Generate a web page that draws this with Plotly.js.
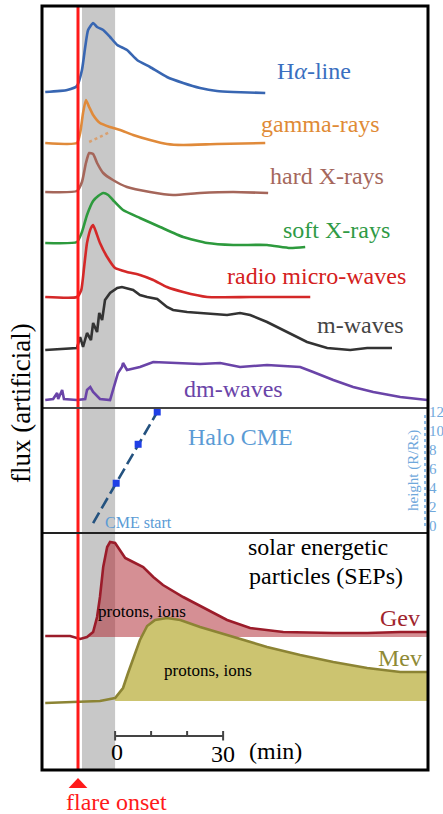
<!DOCTYPE html>
<html><head><meta charset="utf-8">
<script src="https://cdn.plot.ly/plotly-3.0.1.min.js"></script>
<style>html,body{margin:0;padding:0;background:#fff;}#chart{width:443px;height:814px;}</style>
</head><body><div id="chart"></div>
<script>
// ---- time axis (minutes, 0 = scale-bar zero) ----
const flareOnset = -10.3;
const impulsiveStart = -9.2, impulsiveEnd = 0;
const scaleTicks = [0, 10, 20, 30];
const scaleLabels = ['0', '', '', '30'];

// ---- top panel: radiation fluxes (artificial units, stacked) ----
const haT = [-19.4,-13.3,-10.6,-9.2,-8.3,-7.5,-6.1,-5.0,-3.3,-1.4,0.6,3.3,6.1,9.7,14.4,18.9,23.6,28.3,32.8,41.7];
const haV = [315,317,321,337,360,377,384,380,377,370,362,357,347,340,330,324,319,316,315,314];

const gammaT = [-19.4,-10.6,-9.7,-8.9,-8.1,-7.2,-6.1,-4.2,-1.4,1.4,5.0,9.7,14.4,18.9,28.3,41.7];
const gammaV = [264,264,274,294,307,300,292,284,280,277,272,267,263,262,263,264];
const gammaDotT = [-7.2,-1.4];
const gammaDotV = [265,275];

const hxrT = [-19.4,-10.6,-9.2,-8.1,-7.2,-6.1,-5.0,-3.3,-0.6,3.3,9.7,16.1,23.6,32.8,42.5];
const hxrV = [215,216,225,244,254,253,244,234,227,220,215,212,214,215,214];

const sxrT = [-19.4,-10.6,-9.2,-7.8,-6.1,-4.7,-3.3,-1.9,-0.6,2.2,6.9,12.5,18.9,25.6,32.8,42.2,48.6,52.8];
const sxrV = [164,165,175,192,206,211,214,212,207,197,189,180,170,164,162,162,159,160];

const mwT = [-19.4,-10.6,-9.4,-8.6,-7.8,-6.7,-6.1,-5.3,-4.2,-2.2,0,3.3,6.9,10.6,14.4,18.9,25.6,37.5,54.2];
const mwV = [110,110,117,140,164,179,182,175,164,150,139,135,132,127,120,115,110,110,110];

const metT = [-19.4,-10.6,-9.7,-8.9,-7.8,-6.7,-6.1,-5.0,-4.4,-3.6,-2.8,-1.4,0.6,1.9,5.0,6.9,8.9,11.7,14.4,16.1,20.0,23.6,27.2,31.1,34.7,37.5,42.2,47.8,53.3,58.9,65.3,70.0,76.9];
const metV = [57,59,70,60,74,67,84,75,94,87,107,114,119,120,117,112,110,108,100,97,95,94,93,92,94,92,85,75,65,59,57,59,59];

const dmT = [-19.4,-17.2,-16.1,-15.8,-14.7,-14.2,-10.6,-8.3,-7.8,-6.9,-6.1,-4.2,-1.4,0,0.8,1.9,2.2,3.3,6.9,10.6,16.1,23.6,29.2,34.7,42.2,51.4,55.0,60.6,66.1,71.7,79.2,86.7];
const dmV = [7,8,14,8,17,8,7,8,17,20,15,8,7,24,34,40,44,37,40,45,44,43,44,40,42,40,35,27,20,15,10,7];

// ---- middle panel: halo CME height (R/Rs) ----
const cmeT = [-6.1, 0.3, 6.4, 11.7];
const cmeH = [0.3, 4.5, 8.6, 12];
const heightTicks = [0, 2, 4, 6, 8, 10, 12];

// ---- bottom panel: SEP fluxes (artificial units) ----
const gevT = [-19.4,-12.5,-9.7,-7.8,-6.1,-5.0,-4.2,-3.3,-2.2,-1.4,0,1.4,2.8,5.0,7.8,10.6,13.3,18.9,25.6,31.1,37.5,46.7,60.6,70,79.2,86.9];
const gevV = [134,134,131,133,138,153,173,203,223,228,227,220,212,208,203,193,185,173,160,150,142,138,137,137,138,138];
const gevBase = 133, gevFillStart = -7.8;

const mevT = [-19.4,-10.3,-4.2,0,2.2,3.6,4.7,6.1,6.9,8.9,11.1,14.4,18.1,23.6,32.8,42.2,51.4,60.6,70,79.2,86.9];
const mevV = [67,68,69,72,82,97,108,120,130,144,150,152,150,143,133,123,115,108,102,98,98];
const mevBase = 69, mevFillStart = 0;

const scaleBarLevel = 34;

// ---------------- build ----------------
const XR = [-20.3, 86.9];
const SERIF = 'Liberation Serif';
const D1 = (770 - 408) / 764, D2 = (770 - 533) / 764;
const px = x => (x - 42) / 386, py = y => (770 - y) / 764;
const tx = t => (t - XR[0]) / (XR[1] - XR[0]);

function line(x, y, color, yaxis, smooth) {
  const ln = {color, width:2.6};
  if (smooth) { ln.shape = 'spline'; ln.smoothing = smooth; }
  return {x, y, yaxis, type:'scatter', mode:'lines', hoverinfo:'skip', line:ln};
}
function fillPoly(T, V, base, start, color) {
  const xs = [], ys = [];
  T.forEach((t, i) => { if (t >= start) { xs.push(t); ys.push(V[i]); } });
  const X = xs.concat([xs[xs.length - 1], xs[0]]);
  const Y = ys.concat([base, base]);
  return {x:X, y:Y, yaxis:'y3', type:'scatter', mode:'lines', fill:'toself', fillcolor:color,
    line:{width:0}, hoverinfo:'skip'};
}

const traces = [
  line(haT, haV, '#3866b2', 'y', 0.5),
  line(gammaT, gammaV, '#e08a3a', 'y', 0.5),
  {x:gammaDotT, y:gammaDotV, yaxis:'y', type:'scatter', mode:'lines', hoverinfo:'skip',
   line:{color:'#d9a070', width:2.5, dash:'dot'}},
  line(hxrT, hxrV, '#a5665a', 'y', 0.5),
  line(sxrT, sxrV, '#2d9a3d', 'y', 0.5),
  line(mwT, mwV, '#d42828', 'y', 0.5),
  line(metT, metV, '#333333', 'y'),
  line(dmT, dmV, '#6a44a8', 'y'),
  {x:cmeT, y:cmeH, yaxis:'y2', type:'scatter', mode:'lines', hoverinfo:'skip',
   line:{color:'#24527f', width:2.6, dash:'12px,5px'}},
  {x:cmeT.slice(1), y:cmeH.slice(1), yaxis:'y2', type:'scatter', mode:'markers', hoverinfo:'skip',
   cliponaxis:false, marker:{symbol:'square', size:7, color:'#1f3fe6'}},
  fillPoly(gevT, gevV, gevBase, gevFillStart, 'rgba(175,40,50,0.52)'),
  line(gevT, gevV, '#9b1c2a', 'y3'),
  fillPoly(mevT, mevV, mevBase, mevFillStart, '#ccc470'),
  line(mevT, mevV, '#8c8434', 'y3'),
  {x:[scaleTicks[0], scaleTicks[scaleTicks.length-1]], y:[scaleBarLevel, scaleBarLevel], yaxis:'y3',
   type:'scatter', mode:'lines', hoverinfo:'skip', line:{color:'#444', width:2}}
];

const shapes = [
  {type:'rect', xref:'x', yref:'paper', x0:impulsiveStart, x1:impulsiveEnd, y0:0, y1:1,
   fillcolor:'#c8c8c8', line:{width:0}, layer:'below'},
  {type:'line', xref:'x', yref:'paper', x0:flareOnset, x1:flareOnset, y0:0, y1:1,
   line:{color:'#ff1a1a', width:3}, layer:'above'},
  {type:'path', xref:'paper', yref:'paper',
   path:`M ${tx(flareOnset)},${py(778)} L ${tx(flareOnset-2.6)},${py(788)} L ${tx(flareOnset+2.6)},${py(788)} Z`,
   fillcolor:'#ff1a1a', line:{width:0}},
  {type:'line', xref:'paper', yref:'paper', x0:0, x1:1, y0:D1, y1:D1, line:{color:'#444', width:2}},
  {type:'line', xref:'paper', yref:'paper', x0:0, x1:1, y0:D2, y1:D2, line:{color:'#222', width:2}},
  {type:'line', xref:'paper', yref:'y2', x0:px(425), x1:px(425), y0:0, y1:12,
   line:{color:'#8ebde8', width:2, dash:'dot'}},
  {type:'rect', xref:'paper', yref:'paper', x0:0, x1:1, y0:0, y1:1, line:{color:'#000', width:3}, layer:'above'}
];
scaleTicks.forEach((t, i) => {
  const end = (i === 0 || i === scaleTicks.length - 1);
  shapes.push({type:'line', xref:'x', yref:'y3', x0:t, x1:t,
    y0: end ? scaleBarLevel - 4.5 : scaleBarLevel, y1: scaleBarLevel + 5, line:{color:'#444', width:2}});
});

function ann(text, x, y, size, color, extra) {
  return Object.assign({text, xref:'paper', yref:'paper', x:px(x), y:py(y), xanchor:'center', yanchor:'middle',
    showarrow:false, font:{family:SERIF, size, color}}, extra || {});
}
const annotations = [
  ann('H<i>α</i>-line', 314, 71, 24, '#3a6fc0'),
  ann('gamma-rays', 320, 124, 24, '#e08a35'),
  ann('hard X-rays', 327, 176, 24, '#a5675c'),
  ann('soft X-rays', 336, 230, 24, '#2f9a45'),
  ann('radio micro-waves', 316, 276, 24, '#d42020'),
  ann('m-waves', 360, 325, 24, '#444444'),
  ann('dm-waves', 233, 389, 24, '#6a44a8'),
  ann('Halo CME', 240, 437, 24, '#5b9bd5'),
  ann('CME start', 138, 522, 16, '#5b9bd5'),
  ann('height (R/Rs)', 413, 471, 15, '#6fa8dc', {textangle:-90}),
  ann('solar energetic', 318, 547, 24, '#000'),
  ann('particles (SEPs)', 326, 576, 24, '#000'),
  ann('protons, ions', 142, 611, 17, '#000'),
  ann('Gev', 400, 618, 24, '#a0242c'),
  ann('Mev', 400, 658, 24, '#8f8a35'),
  ann('protons, ions', 208, 670, 17, '#000'),
  ann('flux (artificial)', 21, 403, 27, '#000', {textangle:-90}),
  ann('flare onset', 116, 802, 24, '#ff1a1a'),
  ann('(min)', 275, 751, 24, '#000')
];
scaleTicks.forEach((t, i) => {
  if (scaleLabels[i]) annotations.push({text:scaleLabels[i], xref:'x', yref:'y3', x:t + (i === 0 ? 0.6 : 0),
    y: scaleBarLevel - (i === 0 ? 16 : 18), xanchor:'center', yanchor:'middle', showarrow:false,
    font:{family:SERIF, size:24, color:'#000'}});
});

const hidden = {showgrid:false, zeroline:false, showticklabels:false, ticks:'', showline:false, fixedrange:true};
const layout = {
  width:443, height:814, margin:{l:42, r:15, t:6, b:44, pad:0},
  paper_bgcolor:'#fff', plot_bgcolor:'#fff', showlegend:false,
  font:{family:SERIF},
  xaxis: Object.assign({}, hidden, {range:XR, anchor:'y3'}),
  yaxis: Object.assign({}, hidden, {domain:[D1, 1], range:[-1, 401], anchor:'x'}),
  yaxis2: {domain:[D2, D1], range:[-0.74, 12.42], anchor:'x', side:'right', showgrid:false, zeroline:false,
    showline:false, ticks:'', tickvals:heightTicks, ticktext:heightTicks.map(String),
    tickfont:{family:SERIF, size:15, color:'#6fa8dc'}, fixedrange:true},
  yaxis3: Object.assign({}, hidden, {domain:[0, D2], range:[0, 237], anchor:'x'}),
  shapes, annotations
};
Plotly.newPlot('chart', traces, layout, {staticPlot:true, displayModeBar:false});
</script>
</body></html>
